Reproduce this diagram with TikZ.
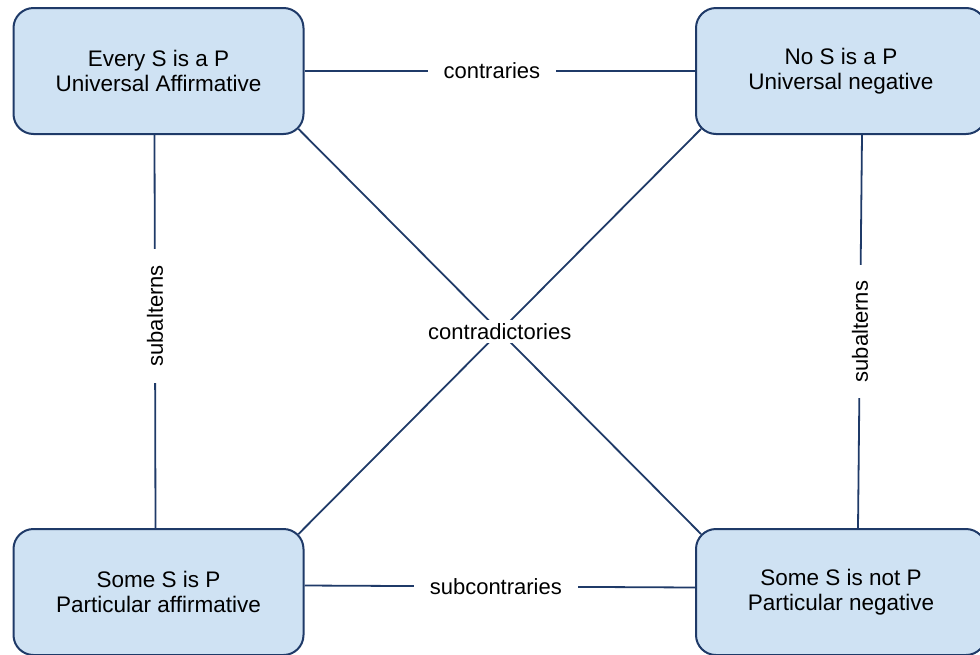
\documentclass[tikz,border=0pt]{standalone}
\usepackage{fontspec}
\setmainfont{Liberation Sans}
\definecolor{boxfill}{HTML}{CFE2F3}
\definecolor{boxline}{HTML}{1F3A68}

\begin{document}
\begin{tikzpicture}[x=1pt, y=-1pt,
	prop/.style={draw=boxline, fill=boxfill, line width=2pt, rounded corners=20pt, minimum width=290pt, minimum height=126pt, align=center, font=\fontsize{22.5}{25}\selectfont},
	rel/.style={fill=white, font=\fontsize{22}{25}\selectfont, inner xsep=16pt, inner ysep=4pt},
	link/.style={draw=boxline, line width=1.8pt}]
	\useasboundingbox (0, 0) rectangle (980, 654);
	
	\node[prop] (A) at (158.5, 71) {Every S is a P\\Universal Affirmative};
	\node[prop] (E) at (841, 71) {No S is a P\\Universal negative};
	\node[prop] (I) at (158.5, 592) {Some S is P\\Particular affirmative};
	\node[prop] (O) at (841, 592) {Some S is not P\\Particular negative};
	
	\draw[link] (A) -- (E) node[rel, pos=0.48]{contraries};
	\draw[link] ([yshift=6.5pt]I.east) -- ([yshift=4.5pt]O.west) node[rel, pos=0.49]{subcontraries};
	\draw[link] ([xshift=-4pt]A.south) -- ([xshift=-3pt]I.north) node[rel, rotate=90, pos=0.46]{subalterns};
	\draw[link] ([xshift=21pt]E.south) -- ([xshift=17pt]O.north) node[rel, rotate=90, pos=0.5]{subalterns};
	
	\draw[link, shorten <=-8.5pt, shorten >=-8.5pt] (A.south east) -- (O.north west);
	\draw[link, shorten <=-8.5pt, shorten >=-8.5pt] (E.south west) -- (I.north east) node[rel, midway, inner xsep=2pt, inner ysep=3pt]{contradictories};
\end{tikzpicture}
\end{document}
